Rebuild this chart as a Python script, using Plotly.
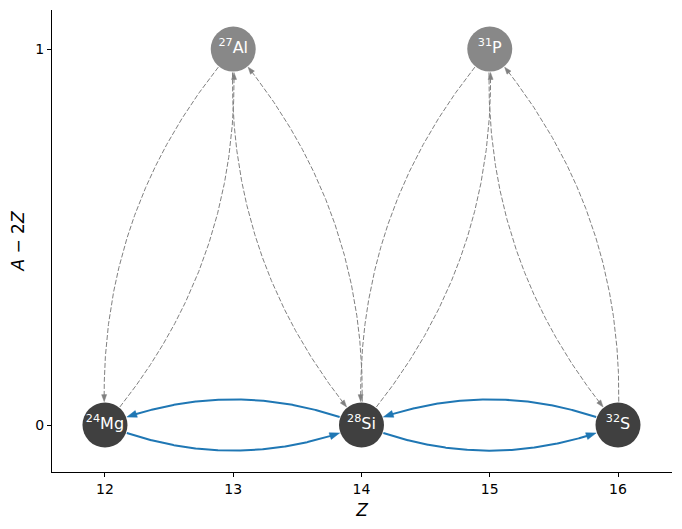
import numpy as np
import plotly.graph_objects as go

# nuclei in the network
nuclei = ["mg24", "al27", "si28", "p31", "s32"]
element = ["Mg", "Al", "Si", "P", "S"]
mass_number = [24, 27, 28, 31, 32]
proton_number = [12, 13, 14, 15, 16]
n_minus_z = [0, 1, 0, 1, 0]          # A - 2Z
node_color = ["#404040", "#888888", "#404040", "#888888", "#404040"]

# links: solid blue for the main rates, dashed gray for the rest
main_rates = [("mg24", "si28"), ("si28", "mg24"),
              ("si28", "s32"), ("s32", "si28")]
other_rates = [("mg24", "al27"), ("al27", "mg24"),
               ("al27", "si28"), ("si28", "al27"),
               ("si28", "p31"), ("p31", "si28"),
               ("p31", "s32"), ("s32", "p31")]

# figure geometry (pixels) so the arcs can be bent in screen space like matplotlib's arc3
# the page body has an 8px margin, so the figure is made 8px smaller and the margins shifted
W, H = 674, 521
ML, MR, MT, MB = 44, 10, 2, 57
xr = [11.587, 16.421]
yr = [-0.125, 1.104]
pw, ph = W - ML - MR, H - MT - MB

pos = {n: (z, a) for n, z, a in zip(nuclei, proton_number, n_minus_z)}


def to_px(p):
    return np.array([(p[0] - xr[0]) / (xr[1] - xr[0]) * pw,
                     (p[1] - yr[0]) / (yr[1] - yr[0]) * ph])


def to_data(q):
    q = np.atleast_2d(q)
    x = q[:, 0] / pw * (xr[1] - xr[0]) + xr[0]
    y = q[:, 1] / ph * (yr[1] - yr[0]) + yr[0]
    return x, y


def edge_paths(edges, head_len, head_w, rad=0.2, r_node=23):
    lx, ly, hx, hy = [], [], [], []
    for a, b in edges:
        p0, p2 = to_px(pos[a]), to_px(pos[b])
        d = p2 - p0
        c = (p0 + p2) / 2 + rad * np.array([d[1], -d[0]])
        t = np.linspace(0, 1, 600)[:, None]
        pts = (1 - t) ** 2 * p0 + 2 * (1 - t) * t * c + t ** 2 * p2
        keep = (np.hypot(*(pts - p0).T) >= r_node) & (np.hypot(*(pts - p2).T) >= r_node)
        seg = pts[keep]
        tip = seg[-1]
        u = tip - seg[-6]
        u = u / np.hypot(*u)
        perp = np.array([-u[1], u[0]])
        base = tip - head_len * u
        # line stops at the base of the head
        seg = seg[np.hypot(*(seg - p2).T) >= r_node + head_len * 0.8]
        x, y = to_data(seg)
        lx += list(x) + [None]
        ly += list(y) + [None]
        tri = np.array([tip, base + perp * head_w / 2, base - perp * head_w / 2, tip])
        x, y = to_data(tri)
        hx += list(x) + [None]
        hy += list(y) + [None]
    return lx, ly, hx, hy


fig = go.Figure()

gx, gy, ghx, ghy = edge_paths(other_rates, head_len=7, head_w=5)
fig.add_trace(go.Scatter(x=gx, y=gy, mode="lines", hoverinfo="skip",
                         line=dict(color="gray", width=1, dash="5px,2px")))
fig.add_trace(go.Scatter(x=ghx, y=ghy, mode="lines", fill="toself", hoverinfo="skip",
                         fillcolor="gray", line=dict(color="gray", width=0.5)))

bx, by, bhx, bhy = edge_paths(main_rates, head_len=10, head_w=7)
fig.add_trace(go.Scatter(x=bx, y=by, mode="lines", hoverinfo="skip",
                         line=dict(color="#1f77b4", width=2)))
fig.add_trace(go.Scatter(x=bhx, y=bhy, mode="lines", fill="toself", hoverinfo="skip",
                         fillcolor="#1f77b4", line=dict(color="#1f77b4", width=0.5)))

labels = [f"<sup>{m}</sup>{e}" for m, e in zip(mass_number, element)]
fig.add_trace(go.Scatter(
    x=proton_number, y=n_minus_z, mode="markers+text", text=labels,
    textposition="middle center",
    textfont=dict(family="DejaVu Sans", size=16, color="white"),
    marker=dict(size=45, color=node_color, line=dict(width=0)),
    hoverinfo="skip"))

fig.update_layout(
    width=W, height=H, showlegend=False,
    margin=dict(l=ML, r=MR, t=MT, b=MB),
    paper_bgcolor="white", plot_bgcolor="white",
    font=dict(family="DejaVu Sans", size=14, color="black"),
)
fig.update_xaxes(range=xr, tickvals=[12, 13, 14, 15, 16], showgrid=False, zeroline=False,
                 automargin=False, tickfont=dict(size=14),
                 showline=True, linecolor="black", linewidth=1, ticks="outside",
                 ticklen=4, tickcolor="black",
                 title=dict(text="<i>Z</i>", font=dict(size=17), standoff=8))
fig.update_yaxes(range=yr, tickvals=[0, 1], showgrid=False, zeroline=False,
                 automargin=False, tickfont=dict(size=14),
                 showline=True, linecolor="black", linewidth=1, ticks="outside",
                 ticklen=4, tickcolor="black",
                 title=dict(text="<i>A</i> − 2<i>Z</i>", font=dict(size=17), standoff=10))

fig.write_html("out.html")
